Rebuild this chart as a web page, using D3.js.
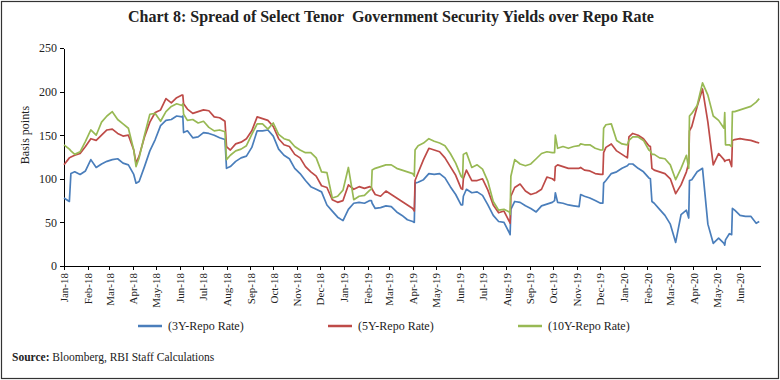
<!DOCTYPE html>
<html>
<head>
<meta charset="utf-8">
<script src="https://cdn.jsdelivr.net/npm/d3@7"></script>
<style>
  body { margin: 0; background: #fff; }
  svg { display: block; font-family: "Liberation Serif", "Times New Roman", serif; }
  .axis path, .axis line { stroke: #000; shape-rendering: crispEdges; }
  .axis text { fill: #222; }
</style>
</head>
<body>
<svg width="780" height="380"></svg>
<script>
// observation dates (weekly, plus the days around each jump)
var dates = [
  "2018-01-01","2018-01-08","2018-01-10","2018-01-15","2018-01-22","2018-01-29","2018-02-05","2018-02-12","2018-02-19","2018-02-26",
  "2018-03-05","2018-03-12","2018-03-19","2018-03-26","2018-04-02","2018-04-05","2018-04-09","2018-04-16","2018-04-23","2018-04-30",
  "2018-05-07","2018-05-14","2018-05-21","2018-05-28","2018-06-04","2018-06-05","2018-06-06","2018-06-11","2018-06-18","2018-06-25",
  "2018-07-02","2018-07-09","2018-07-16","2018-07-23","2018-07-30","2018-08-01","2018-08-06","2018-08-13","2018-08-20","2018-08-27",
  "2018-09-03","2018-09-10","2018-09-17","2018-09-24","2018-10-01","2018-10-08","2018-10-15","2018-10-22","2018-10-29","2018-11-05",
  "2018-11-12","2018-11-19","2018-11-26","2018-12-03","2018-12-10","2018-12-17","2018-12-24","2018-12-31","2019-01-07","2019-01-14",
  "2019-01-21","2019-01-28","2019-02-04","2019-02-06","2019-02-07","2019-02-11","2019-02-18","2019-02-25","2019-03-04","2019-03-11",
  "2019-03-18","2019-03-25","2019-04-01","2019-04-03","2019-04-04","2019-04-08","2019-04-15","2019-04-22","2019-04-29","2019-05-06",
  "2019-05-13","2019-05-20","2019-05-27","2019-06-03","2019-06-05","2019-06-06","2019-06-10","2019-06-17","2019-06-24","2019-07-01",
  "2019-07-08","2019-07-15","2019-07-22","2019-07-29","2019-08-05","2019-08-06","2019-08-07","2019-08-12","2019-08-19","2019-08-26",
  "2019-09-02","2019-09-09","2019-09-16","2019-09-23","2019-09-30","2019-10-03","2019-10-04","2019-10-07","2019-10-14","2019-10-21",
  "2019-10-28","2019-11-04","2019-11-06","2019-11-11","2019-11-18","2019-11-25","2019-12-02","2019-12-05","2019-12-06","2019-12-09",
  "2019-12-16","2019-12-23","2019-12-30","2020-01-06","2020-01-08","2020-01-13","2020-01-20","2020-01-27","2020-02-03","2020-02-05",
  "2020-02-07","2020-02-10","2020-02-17","2020-02-24","2020-03-02","2020-03-09","2020-03-16","2020-03-23","2020-03-26","2020-03-27",
  "2020-03-30","2020-04-06","2020-04-13","2020-04-20","2020-04-27","2020-05-04","2020-05-11","2020-05-12","2020-05-13","2020-05-18",
  "2020-05-21","2020-05-22","2020-05-25","2020-06-01","2020-06-08","2020-06-15","2020-06-22","2020-06-26"
];

// spreads in basis points
var spread3Y = [
  78, 74, 106, 108, 105, 109, 122, 113, 117, 120,
  122, 123, 118, 116, 105, 95, 97, 114, 132, 145,
  161, 167, 168, 172, 171, 172, 153, 155, 147, 148,
  153, 152, 150, 147, 145, 112, 114, 120, 124, 126,
  136, 155, 155, 156, 149, 134, 127, 123, 112, 106,
  98, 91, 88, 85, 70, 63, 56, 52, 65, 72,
  73, 72, 75, 75, 72, 66, 67, 69, 68, 62,
  58, 53, 51, 50, 95, 96, 99, 106, 105, 106,
  101, 91, 82, 70, 70, 80, 88, 84, 85, 81,
  70, 58, 51, 50, 38, 36, 65, 74, 73, 69,
  66, 62, 69, 71, 73, 75, 84, 73, 72, 70,
  69, 68, 82, 80, 78, 75, 72, 72, 95, 98,
  106, 108, 112, 115, 117, 117, 112, 108, 101, 100,
  74, 72, 65, 58, 48, 27, 59, 64, 55, 98,
  99, 108, 112, 48, 26, 32, 26, 24, 30, 37,
  36, 66, 64, 58, 57, 57, 49, 51
];
var spread5Y = [
  116, 124, 125, 127, 129, 137, 146, 144, 150, 156,
  157, 152, 149, 150, 133, 118, 126, 148, 165, 176,
  179, 192, 187, 193, 196, 196, 186, 180, 175, 177,
  179, 178, 171, 170, 166, 137, 133, 140, 142, 146,
  155, 171, 169, 167, 160, 146, 139, 137, 128, 124,
  114, 108, 103, 92, 90, 76, 73, 75, 93, 88,
  91, 89, 91, 90, 88, 82, 80, 86, 82, 78,
  74, 70, 66, 63, 98, 107, 122, 135, 133, 131,
  124, 114, 104, 89, 88, 100, 110, 98, 98, 100,
  87, 70, 61, 63, 51, 49, 80, 90, 94, 86,
  82, 84, 88, 102, 100, 98, 114, 116, 114, 112,
  112, 112, 113, 110, 109, 106, 105, 105, 130, 136,
  140, 132, 128, 124, 148, 152, 150, 146, 138, 137,
  112, 110, 108, 106, 100, 83, 93, 108, 118, 155,
  160, 183, 203, 165, 116, 129, 122, 120, 121, 122,
  114, 144, 145, 146, 145, 144, 142, 141
];
var spread10Y = [
  139, 134, 132, 128, 131, 143, 156, 150, 165, 172,
  177, 168, 163, 158, 133, 114, 124, 150, 174, 175,
  166, 177, 183, 186, 184, 186, 174, 167, 168, 164,
  166, 159, 155, 156, 154, 122, 127, 132, 134, 138,
  151, 163, 163, 157, 164, 151, 146, 144, 137, 133,
  130, 130, 124, 108, 107, 78, 80, 87, 113, 76,
  80, 81, 87, 88, 110, 112, 114, 116, 116, 112,
  110, 108, 106, 103, 133, 138, 141, 146, 143, 141,
  138, 129, 118, 103, 101, 128, 130, 113, 116, 111,
  97, 74, 64, 65, 62, 59, 103, 122, 117, 115,
  117, 123, 129, 131, 130, 130, 150, 135, 137, 135,
  137, 138, 140, 139, 139, 135, 133, 133, 158, 162,
  163, 144, 140, 139, 144, 148, 148, 144, 133, 132,
  128, 128, 124, 123, 116, 99, 112, 127, 112, 172,
  175, 184, 210, 196, 172, 167, 158, 176, 139, 139,
  137, 177, 177, 179, 181, 183, 188, 192
];

var monthLabels = [
  "Jan-18","Feb-18","Mar-18","Apr-18","May-18","Jun-18","Jul-18","Aug-18","Sep-18","Oct-18","Nov-18","Dec-18",
  "Jan-19","Feb-19","Mar-19","Apr-19","May-19","Jun-19","Jul-19","Aug-19","Sep-19","Oct-19","Nov-19","Dec-19",
  "Jan-20","Feb-20","Mar-20","Apr-20","May-20","Jun-20"
];
var yTicks = [0, 50, 100, 150, 200, 250];
var seriesNames = ["(3Y-Repo Rate)", "(5Y-Repo Rate)", "(10Y-Repo Rate)"];
var seriesColors = ["#4a7ebb", "#be4b48", "#98b954"];

var svg = d3.select("svg"),
    width = +svg.attr("width"),
    height = +svg.attr("height");

var parseDate = d3.timeParse("%Y-%m-%d"),
    parseMonth = d3.timeParse("%b-%y");

// outer frame
svg.append("rect")
    .attr("x", 1.5).attr("y", 1.5)
    .attr("width", width - 3).attr("height", height - 3)
    .attr("fill", "none").attr("stroke", "#333").attr("stroke-width", 1.2);

svg.append("text")
    .attr("x", 391).attr("y", 22)
    .attr("text-anchor", "middle")
    .attr("font-size", 16).attr("font-weight", "bold").attr("fill", "#222")
    .style("white-space", "pre")
    .text("Chart 8: Spread of Select Tenor  Government Security Yields over Repo Rate");

var x = d3.scaleTime()
    .domain([parseDate("2018-01-01"), parseDate("2020-06-27")])
    .range([64, 760]);
var y = d3.scaleLinear().domain([0, 250]).range([266, 48]);

// x axis with rotated month labels
var gx = svg.append("g")
    .attr("class", "axis")
    .attr("transform", "translate(0,266)")
    .call(d3.axisBottom(x)
        .tickValues(monthLabels.map(function (m) { return parseMonth(m); }))
        .tickFormat(d3.timeFormat("%b-%y"))
        .tickSize(4)
        .tickSizeOuter(0));
gx.selectAll("text")
    .attr("font-size", 11)
    .attr("font-family", "Liberation Serif, serif")
    .attr("y", 0)
    .attr("x", -7)
    .attr("dy", "0.35em")
    .attr("transform", "rotate(-90)")
    .style("text-anchor", "end");

var gy = svg.append("g")
    .attr("class", "axis")
    .attr("transform", "translate(64,0)")
    .call(d3.axisLeft(y).tickValues(yTicks).tickSize(4).tickSizeOuter(0).tickPadding(3));
gy.selectAll("text")
    .attr("font-size", 12)
    .attr("font-family", "Liberation Serif, serif");

svg.append("text")
    .attr("transform", "translate(29,135) rotate(-90)")
    .attr("text-anchor", "middle")
    .attr("font-size", 12).attr("fill", "#222")
    .text("Basis points");

// lines
var allSeries = [spread3Y, spread5Y, spread10Y];
var line = d3.line()
    .x(function (d) { return x(d.date); })
    .y(function (d) { return y(d.value); });

allSeries.forEach(function (values, i) {
    var rows = dates.map(function (s, j) {
        return { date: parseDate(s), value: values[j] };
    });
    svg.append("path")
        .datum(rows)
        .attr("fill", "none")
        .attr("stroke", seriesColors[i])
        .attr("stroke-width", 1.7)
        .attr("stroke-linejoin", "round")
        .attr("d", line);
});

// legend
var legendX = [138, 328, 518];
var legend = svg.selectAll(".legend")
    .data(seriesNames)
    .enter().append("g")
    .attr("class", "legend")
    .attr("transform", function (d, i) { return "translate(" + legendX[i] + ",326)"; });
legend.append("line")
    .attr("x1", 0).attr("x2", 24)
    .attr("stroke", function (d, i) { return seriesColors[i]; })
    .attr("stroke-width", 2.5);
legend.append("text")
    .attr("x", 30).attr("dy", "0.35em")
    .attr("font-size", 12).attr("fill", "#222")
    .text(function (d) { return d; });

var source = svg.append("text")
    .attr("x", 12).attr("y", 361)
    .attr("font-size", 11.5).attr("fill", "#222");
source.append("tspan").attr("font-weight", "bold").text("Source:");
source.append("tspan").text(" Bloomberg, RBI Staff Calculations");
</script>
</body>
</html>
